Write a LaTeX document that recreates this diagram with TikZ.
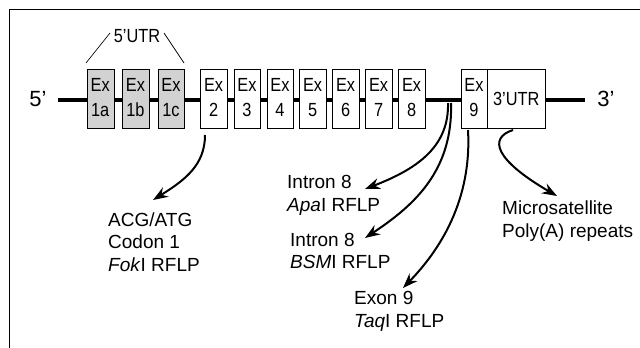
\documentclass[tikz,border=0pt]{standalone}
\usepackage{fontspec}
\setmainfont{Liberation Sans}
\usetikzlibrary{arrows.meta}
\definecolor{boxgray}{RGB}{210,210,210}
\newcommand\exfont{\fontsize{19}{20}\selectfont}
\newcommand\lblfont{\fontsize{19}{22.5}\selectfont}
\newcommand\primefont{\fontsize{22}{24}\selectfont}
\newcommand\cond[1]{\scalebox{0.86}[1]{#1}}
\begin{document}
\begin{tikzpicture}[x=1pt,y=-1pt,
  exbox/.style={draw, line width=0.9pt, minimum width=26.5pt, minimum height=58.5pt, inner sep=0pt, anchor=north west, fill=white},
  grayex/.style={exbox, fill=boxgray},
  extext/.style={font=\exfont, anchor=base, inner sep=0pt},
  lbl/.style={font=\lblfont, align=left, anchor=west, inner sep=0pt},
  arr/.style={line width=2pt, -{Stealth[length=15pt,width=11pt,inset=5pt]}},
  thinline/.style={line width=0.7pt}]
\useasboundingbox (0,0) rectangle (640,348);
% frame
\draw[line width=0.9pt] (9.5,348) -- (9.5,9.5) -- (640,9.5);
% main line
\coordinate (L) at (58,100);
\coordinate (R) at (585,100);
\draw[line width=4pt] (L) -- (R);
\node[font=\primefont, inner sep=0pt] (five) at (38,99) {5’};
\node[font=\primefont, inner sep=0pt] (three) at (606,99) {3’};
% exon boxes
\foreach \n/\x/\s in {1a/87/grayex,1b/122.2/grayex,1c/157.7/grayex,2/200.3/exbox,3/233.7/exbox,4/266.7/exbox,5/299.3/exbox,6/332.3/exbox,7/365.3/exbox,8/398.3/exbox,9/460.7/exbox}{
  \node[\s] (e\n) at (\x,69) {};
  \node[extext] (t\n) at (\x+13.25,91.9) {\cond{Ex}};
  \node[extext] (n\n) at (\x+13.25,116.7) {\cond{\n}};
}
\node[exbox, minimum width=57.3pt] (utr3) at (487.2,69) {};
\node[font=\exfont, inner sep=0pt] (utr3t) at (utr3.center) {\cond{3’UTR}};
% 5'UTR label
\node[font=\exfont, inner sep=0pt] (utr5) at (137,36) {\cond{5’UTR}};
\coordinate (u1) at (86,63);
\coordinate (u2) at (110,33);
\coordinate (u3) at (164,33);
\coordinate (u4) at (184,63);
\draw[thinline] (u1) -- (u2);
\draw[thinline] (u3) -- (u4);
% labels
\node[lbl] (fok) at (108,242) {ACG/ATG\\Codon 1\\\textit{Fok}I RFLP};
\node[lbl] (apa) at (287,195.5) {Intron 8\\\textit{Apa}I RFLP};
\node[lbl] (bsm) at (290,251) {Intron 8\\\textit{BSM}I RFLP};
\node[lbl] (taq) at (354,311.5) {Exon 9\\\textit{Taq}I RFLP};
\node[lbl] (mic) at (502,221) {Microsatellite\\Poly(A) repeats};
% arrows
\coordinate (s2) at (205,135);
\coordinate (a2) at (153,200);
\draw[arr] (s2) .. controls (205,165) and (185,180) .. (a2);
\coordinate (si1) at (448,103);
\coordinate (ai1) at (365,189);
\draw[arr] (si1) .. controls (449,145) and (420,168) .. (ai1);
\coordinate (si2) at (451,103);
\coordinate (ai2) at (365,238);
\draw[arr] (si2) .. controls (453,170) and (415,205) .. (ai2);
\coordinate (s9) at (468,130);
\coordinate (a9) at (403,288);
\draw[arr] (s9) .. controls (472,200) and (440,250) .. (a9);
\coordinate (su) at (513,130);
\coordinate (au) at (557,196);
\draw[arr] (su) .. controls (488,138) and (495,160) .. (au);
\end{tikzpicture}
\end{document}
